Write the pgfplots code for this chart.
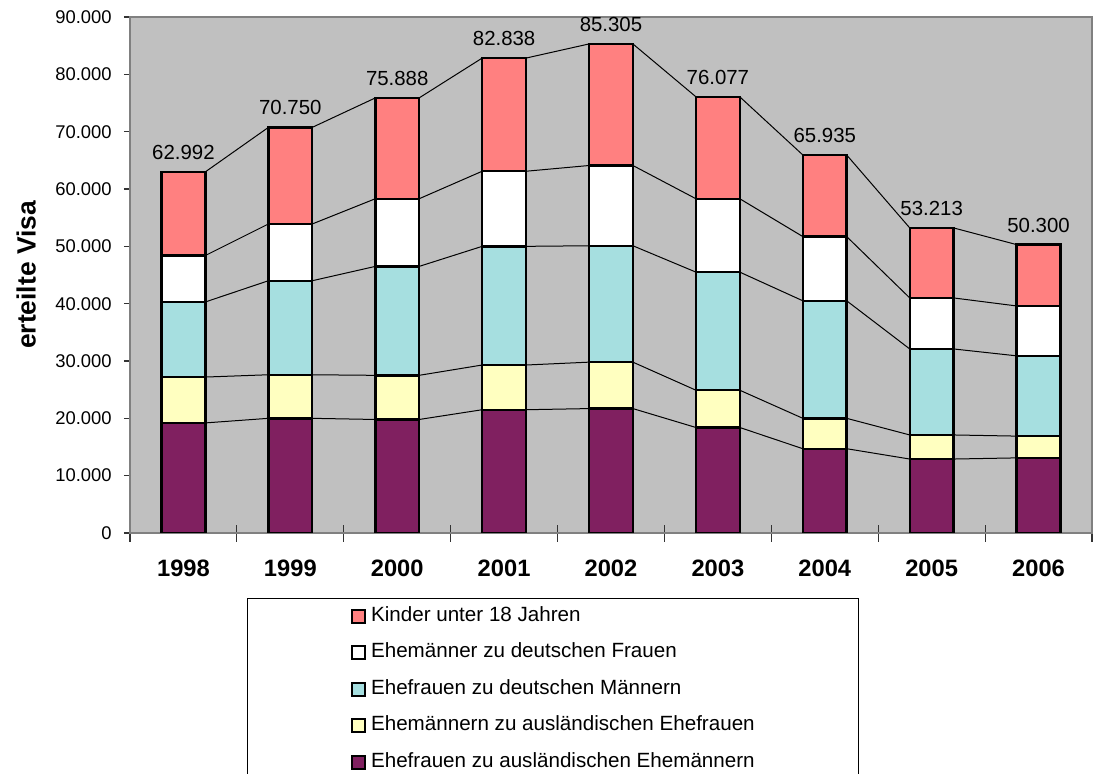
\documentclass[border=0pt]{standalone}
\usepackage{fontspec}
\setmainfont{Liberation Sans}
\usepackage{pgfplots}
\usepackage{pgfplotstable}
\pgfplotsset{compat=1.18}

\definecolor{kid}{HTML}{FF8080}
\definecolor{teal1}{HTML}{A6DFE0}
\definecolor{yel}{HTML}{FFFFC0}
\definecolor{plum}{HTML}{802060}
\definecolor{bg}{HTML}{C0C0C0}
\definecolor{frame}{HTML}{808080}

% components per year; t = total shown above each bar
\pgfplotstableread{
yr    p     y    c     w     t
1998  19200 8000 13100 8100  62992
1999  20000 7600 16400 9900  70750
2000  19800 7700 19000 11800 75888
2001  21500 7800 20700 13100 82838
2002  21700 8100 20300 14000 85305
2003  18400 6500 20600 12800 76077
2004  14700 5300 20500 11200 65935
2005  12900 4200 15000 8900  53213
2006  13100 3800 14000 8700  50300
}\data

% series lines: each level at the left and right edge of every bar
\def\sumcols#1{%
  \pgfmathtruncatemacro\rowidx{\pgfplotstablerow/2}%
  \def\acc{0}%
  \pgfplotsforeachungrouped \cc in {#1}{%
    \pgfplotstablegetelem{\rowidx}{\cc}\of\data
    \edef\acc{\the\numexpr\acc+\pgfplotsretval\relax}}%
  \pgfkeyslet{/pgfplots/table/create col/next content}\acc}
\pgfplotstablenew[
  create on use/x/.style={create col/assign/.code={%
    \pgfmathsetmacro\xx{int(\pgfplotstablerow/2)+(2*mod(\pgfplotstablerow,2)-1)*0.205}%
    \pgfkeyslet{/pgfplots/table/create col/next content}\xx}},
  create on use/c1/.style={create col/assign/.code={\sumcols{p}}},
  create on use/c2/.style={create col/assign/.code={\sumcols{p,y}}},
  create on use/c3/.style={create col/assign/.code={\sumcols{p,y,c}}},
  create on use/c4/.style={create col/assign/.code={\sumcols{p,y,c,w}}},
  create on use/c5/.style={create col/assign/.code={\sumcols{t}}},
  columns={x,c1,c2,c3,c4,c5}]{18}\lines

\pgfplotsset{mybar/.style={ybar, bar width=0.41, bar shift=0pt, draw=black, line width=1.2pt}}

\begin{document}
\begin{tikzpicture}
\begin{axis}[
  at={(0,0)}, anchor=south west,
  scale only axis, width=481pt, height=258pt,
  xmin=-0.5, xmax=8.5, ymin=0, ymax=90000,
  axis background/.style={fill=bg},
  axis line style={draw=frame, line width=1pt},
  tick align=outside,
  xtick pos=bottom, ytick pos=left,
  xtick={0,...,8},
  xticklabels={1998,1999,2000,2001,2002,2003,2004,2005,2006},
  major x tick style={draw=none},
  minor xtick={-0.5,0.5,...,8.5},
  minor x tick style={draw=black!80, line width=0.6pt, yshift=4pt},
  minor tick length=8.5pt,
  major tick length=3pt,
  ytick={0,10000,...,90000},
  ytick style={draw=black!80, line width=0.6pt},
  scaled y ticks=false,
  yticklabel={\pgfmathprintnumber[fixed,precision=0,1000 sep={.},assume math mode=true]{\tick}},
  yticklabel style={font=\fontsize{9.2}{10}\selectfont, inner sep=0pt, xshift=-6pt},
  xticklabel style={font=\bfseries\fontsize{11.85}{12}\selectfont, anchor=north, inner sep=0pt, text height=8.5pt, yshift=-10pt},
  ylabel={erteilte Visa},
  ylabel style={font=\bfseries\fontsize{13.2}{14}\selectfont, at={(axis description cs:-0.108,0.5)}, anchor=center},
  legend cell align=left,
  legend image code/.code={\draw[#1, line width=1pt] (0pt,-3.25pt) rectangle (6.5pt,3.25pt);},
  legend style={at={(0.1212,-0.126)}, anchor=north west, draw=black, line width=0.5pt,
    font=\fontsize{10.3}{12}\selectfont, inner xsep=52pt, inner ysep=4pt, row sep=8.2pt,
    nodes={inner sep=0pt, text height=7.5pt, text depth=2.5pt},
    /tikz/every odd column/.append style={column sep=2.5pt}},
]
% series lines
\addplot[forget plot, black, line width=0.5pt] table[x=x, y=c1] {\lines};
\addplot[forget plot, black, line width=0.5pt] table[x=x, y=c2] {\lines};
\addplot[forget plot, black, line width=0.5pt] table[x=x, y=c3] {\lines};
\addplot[forget plot, black, line width=0.5pt] table[x=x, y=c4] {\lines};
\addplot[forget plot, black, line width=0.5pt] table[x=x, y=c5] {\lines};
% bars, drawn from the top level downwards
\addplot[mybar, fill=kid,
  nodes near coords={\pgfmathprintnumber[fixed,precision=0,1000 sep={.},assume math mode=true]{\pgfplotspointmeta}},
  nodes near coords style={font=\fontsize{10.2}{12}\selectfont, anchor=south, inner sep=0pt, yshift=5.5pt, text=black}]
  table[x expr=\coordindex, y=t] {\data};
\addlegendentry{Kinder unter 18 Jahren}
\addplot[mybar, fill=white] table[x expr=\coordindex, y expr=\thisrow{p}+\thisrow{y}+\thisrow{c}+\thisrow{w}] {\data};
\addlegendentry{Ehemänner zu deutschen Frauen}
\addplot[mybar, fill=teal1] table[x expr=\coordindex, y expr=\thisrow{p}+\thisrow{y}+\thisrow{c}] {\data};
\addlegendentry{Ehefrauen zu deutschen Männern}
\addplot[mybar, fill=yel] table[x expr=\coordindex, y expr=\thisrow{p}+\thisrow{y}] {\data};
\addlegendentry{Ehemännern zu ausländischen Ehefrauen}
\addplot[mybar, fill=plum] table[x expr=\coordindex, y=p] {\data};
\addlegendentry{Ehefrauen zu ausländischen Ehemännern}
\end{axis}
\pgfresetboundingbox
\path[use as bounding box] (-65pt,-120.5pt) rectangle (482pt,266.5pt);
\end{tikzpicture}
\end{document}
